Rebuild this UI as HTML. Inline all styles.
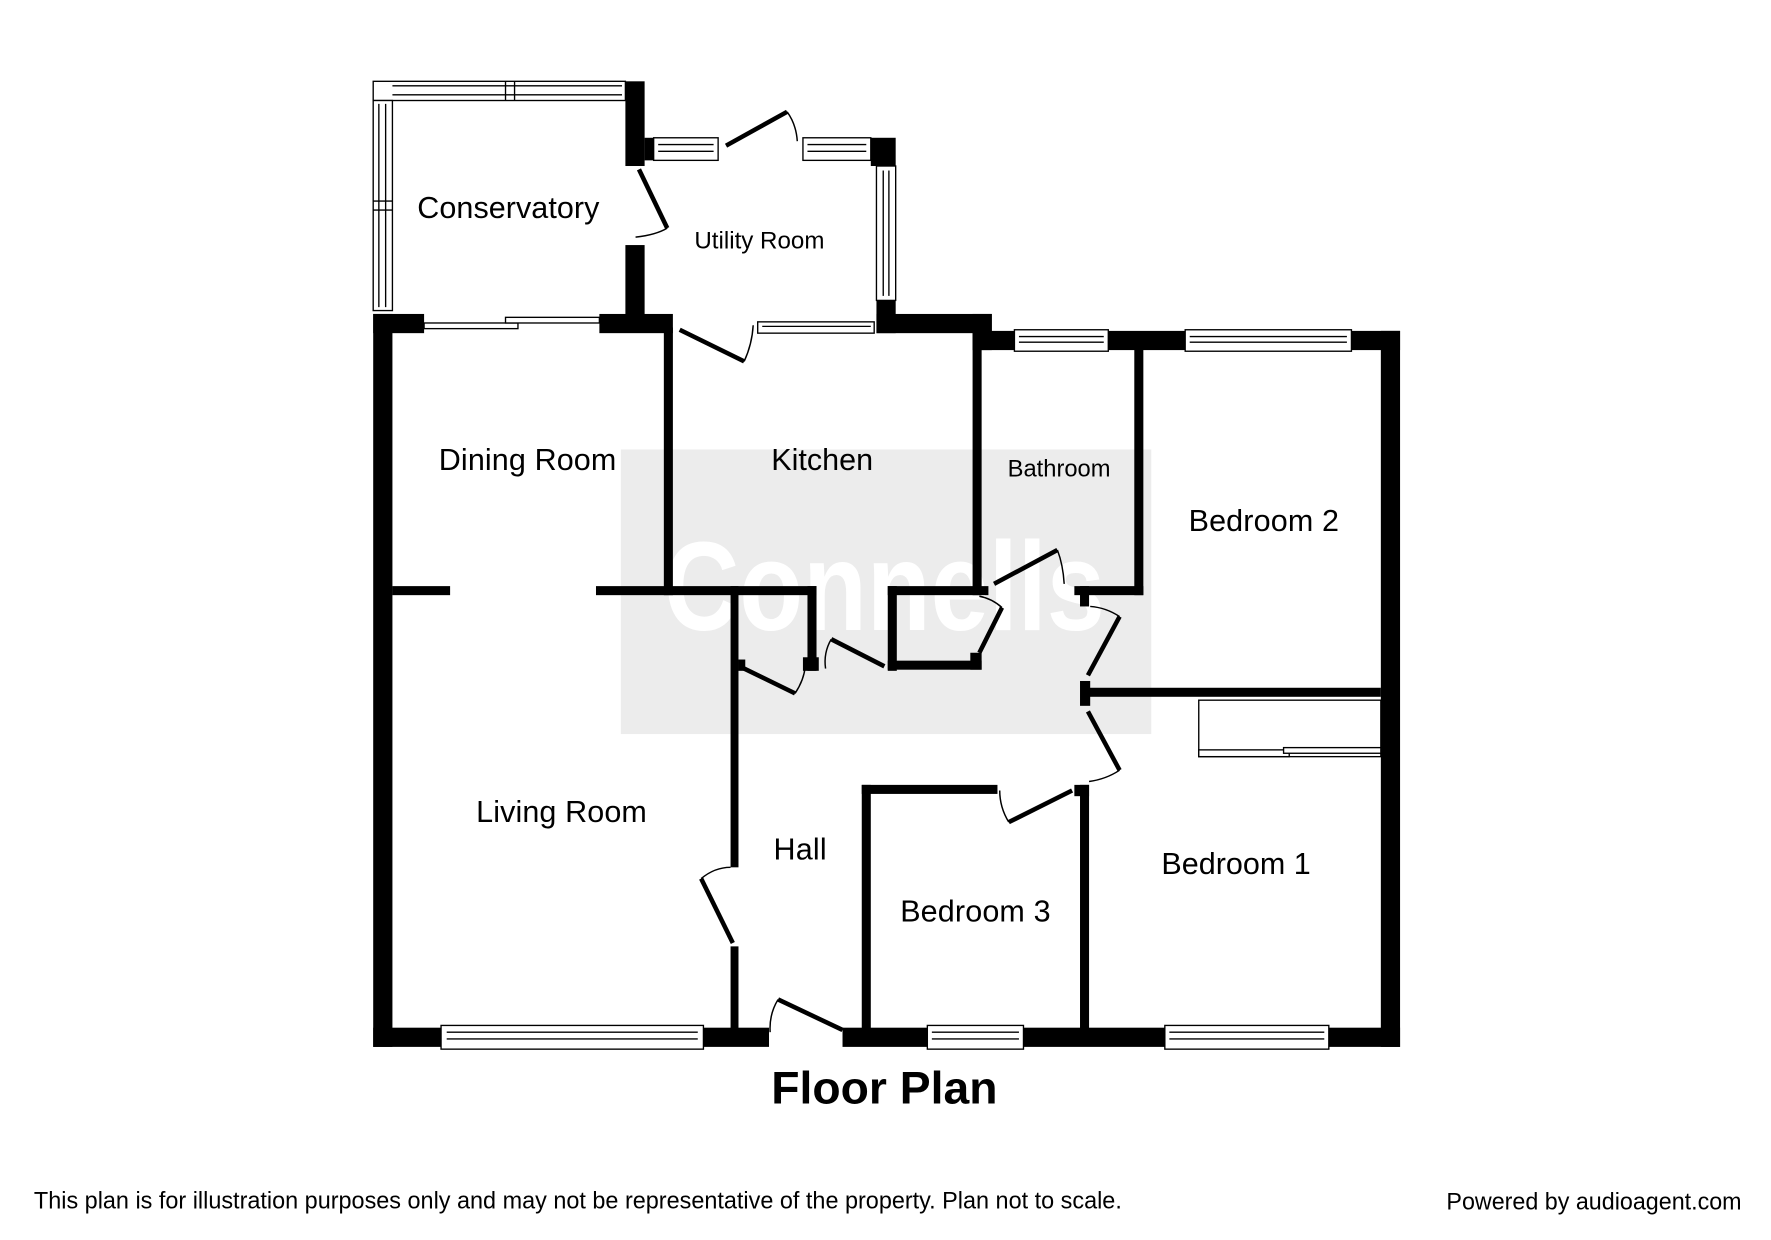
<!DOCTYPE html>
<html><head><meta charset="utf-8"><style>
html,body{margin:0;padding:0;background:#fff;}
svg{display:block;}
text{font-family:"Liberation Sans",Arial,sans-serif;fill:#000;}
</style></head><body>
<svg width="1771" height="1240" viewBox="0 0 1566 1098" preserveAspectRatio="none" xmlns="http://www.w3.org/2000/svg">
<rect x="0" y="0" width="1566" height="1098" fill="#fff"/>
<rect x="549" y="398" width="469" height="252" fill="#ececec"/>
<text x="782" y="558" font-size="112" font-weight="bold" text-anchor="middle" style="fill:#fff" textLength="390" lengthAdjust="spacingAndGlyphs">Connells</text>

<g fill="#000">
<rect x="330" y="278" width="17" height="649"/>
<rect x="330" y="910" width="350" height="17"/>
<rect x="745" y="910" width="493" height="17"/>
<rect x="1221" y="293" width="17" height="634"/>
<rect x="860" y="293" width="378" height="17"/>
<rect x="775" y="278" width="102" height="17"/>
<rect x="860" y="278" width="17" height="32"/>
<rect x="330" y="278" width="45" height="17"/>
<rect x="530" y="278" width="65" height="17"/>
<rect x="553" y="72" width="17" height="75"/>
<rect x="553" y="217" width="17" height="73"/>
<rect x="570" y="122" width="8" height="20"/>
<rect x="770" y="122" width="22" height="25"/>
<rect x="775" y="266" width="17" height="29"/>
<rect x="587" y="290" width="8" height="237"/>
<rect x="860" y="295" width="8" height="232"/>
<rect x="1003" y="305" width="8" height="222"/>
<rect x="347" y="519" width="51" height="8"/>
<rect x="527" y="519" width="195" height="8"/>
<rect x="646" y="519" width="7" height="249"/>
<rect x="646" y="838" width="7" height="80"/>
<rect x="714" y="519" width="8" height="75"/>
<rect x="710" y="582" width="14" height="12"/>
<rect x="653" y="584" width="6" height="10"/>
<rect x="785" y="519" width="89" height="8"/>
<rect x="785" y="519" width="8" height="75"/>
<rect x="785" y="585" width="83" height="8"/>
<rect x="858" y="578" width="10" height="15"/>
<rect x="950" y="519" width="61" height="8"/>
<rect x="955" y="519" width="8" height="18"/>
<rect x="958" y="609" width="263" height="8"/>
<rect x="955" y="603" width="9" height="22"/>
<rect x="762" y="695" width="120" height="8"/>
<rect x="762" y="695" width="8" height="220"/>
<rect x="955" y="695" width="8" height="220"/>
<rect x="950" y="695" width="13" height="10"/>
</g>

<g fill="#fff" stroke="#000" stroke-width="1.2">
<rect x="330" y="72" width="223" height="17"/>
<line x1="347" y1="76" x2="550" y2="76"/><line x1="347" y1="84" x2="550" y2="84"/>
<line x1="447" y1="72" x2="447" y2="89"/><line x1="455" y1="72" x2="455" y2="89"/>
<rect x="330" y="89" width="17" height="186"/>
<line x1="335" y1="92" x2="335" y2="272"/><line x1="341" y1="92" x2="341" y2="272"/>
<line x1="330" y1="178" x2="347" y2="178"/><line x1="330" y1="186" x2="347" y2="186"/>
<rect x="578" y="122" width="57" height="20"/><line x1="582" y1="128" x2="631" y2="128"/><line x1="582" y1="134" x2="631" y2="134"/>
<rect x="710" y="122" width="60" height="20"/><line x1="714" y1="128" x2="766" y2="128"/><line x1="714" y1="134" x2="766" y2="134"/>
<rect x="775" y="147" width="17" height="119"/><line x1="781" y1="151" x2="781" y2="262"/><line x1="786" y1="151" x2="786" y2="262"/>
<rect x="670" y="285" width="103" height="10"/><line x1="674" y1="289" x2="770" y2="289"/>
<rect x="897" y="292" width="83" height="19"/><line x1="901" y1="298" x2="976" y2="298"/><line x1="901" y1="303" x2="976" y2="303"/>
<rect x="1048" y="292" width="147" height="19"/><line x1="1052" y1="298" x2="1191" y2="298"/><line x1="1052" y1="303" x2="1191" y2="303"/>
<rect x="390" y="908" width="232" height="21"/><line x1="395" y1="914" x2="617" y2="914"/><line x1="395" y1="920" x2="617" y2="920"/>
<rect x="820" y="908" width="85" height="21"/><line x1="824" y1="914" x2="901" y2="914"/><line x1="824" y1="920" x2="901" y2="920"/>
<rect x="1030" y="908" width="145" height="21"/><line x1="1034" y1="914" x2="1171" y2="914"/><line x1="1034" y1="920" x2="1171" y2="920"/>
<rect x="375" y="286" width="83" height="5"/><rect x="447" y="281" width="83" height="5"/>
<rect x="1060" y="620" width="161" height="50" fill="none"/>
<rect x="1060" y="664" width="80" height="6"/><rect x="1135" y="662" width="86" height="5"/>
</g>

<g stroke="#000" stroke-width="4" fill="none" stroke-linecap="butt">
<line x1="565" y1="150" x2="590" y2="202"/>
<line x1="642" y1="129" x2="696" y2="99"/>
<line x1="601" y1="292" x2="658" y2="320"/>
<line x1="658" y1="592" x2="703" y2="614"/>
<line x1="735" y1="566" x2="782" y2="590"/>
<line x1="866" y1="578" x2="886" y2="538"/>
<line x1="879" y1="517" x2="935" y2="487"/>
<line x1="962" y1="598" x2="990" y2="546"/>
<line x1="962" y1="630" x2="990" y2="682"/>
<line x1="892" y1="728" x2="948" y2="700"/>
<line x1="620" y1="778" x2="648" y2="835"/>
<line x1="688" y1="885" x2="745" y2="912"/>
</g>
<g stroke="#000" stroke-width="1.3" fill="none">
<path d="M562 210 Q580 208 590 202"/>
<path d="M696 99 Q704 110 705 125"/>
<path d="M658 320 Q665 305 666 288"/>
<path d="M703 614 Q711 602 712 590"/>
<path d="M735 566 Q728 578 730 592"/>
<path d="M886 538 Q877 530 866 528"/>
<path d="M935 487 Q940 500 941 517"/>
<path d="M990 546 Q978 538 964 537"/>
<path d="M990 682 Q978 690 963 692"/>
<path d="M892 728 Q884 715 884 700"/>
<path d="M620 778 Q632 768 646 768"/>
<path d="M688 885 Q680 898 681 914"/>
</g>

<g font-size="27" lengthAdjust="spacingAndGlyphs">
<text x="369" y="193" textLength="161">Conservatory</text>
<text x="388" y="416" textLength="157">Dining Room</text>
<text x="682" y="416" textLength="90">Kitchen</text>
<text x="1051" y="470" textLength="133">Bedroom 2</text>
<text x="421" y="728" textLength="151">Living Room</text>
<text x="684" y="761" textLength="47">Hall</text>
<text x="796" y="816" textLength="133">Bedroom 3</text>
<text x="1027" y="774" textLength="132">Bedroom 1</text>
</g>
<text x="614" y="220" font-size="21" textLength="115" lengthAdjust="spacingAndGlyphs">Utility Room</text>
<text x="891" y="422" font-size="21" textLength="91" lengthAdjust="spacingAndGlyphs">Bathroom</text>
<text x="682" y="977" font-size="40" font-weight="bold" textLength="200" lengthAdjust="spacingAndGlyphs">Floor Plan</text>
<text x="30" y="1070" font-size="21" textLength="962" lengthAdjust="spacingAndGlyphs">This plan is for illustration purposes only and may not be representative of the property. Plan not to scale.</text>
<text x="1279" y="1071" font-size="21" textLength="261" lengthAdjust="spacingAndGlyphs">Powered by audioagent.com</text>
</svg>
</body></html>
